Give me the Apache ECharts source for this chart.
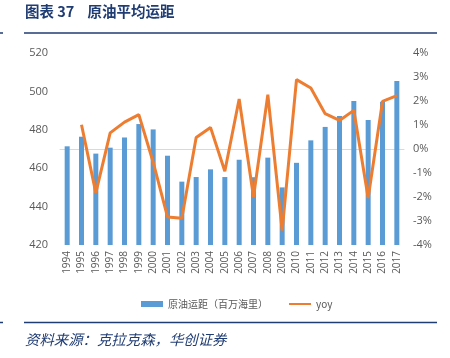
<!DOCTYPE html>
<html><head><meta charset="utf-8">
<script src="https://cdn.jsdelivr.net/npm/echarts@6/dist/echarts.min.js"></script>
<style>html,body{margin:0;padding:0;background:#fff}#c{width:450px;height:358px}</style>
</head><body><div id="c"></div>
<script>
const categories = ['1994','1995','1996','1997','1998','1999','2000','2001','2002','2003','2004','2005','2006','2007','2008','2009','2010','2011','2012','2013','2014','2015','2016','2017'];
const distance = [471.4,476.4,467.6,470.7,476.0,483.0,480.2,466.5,453.0,455.4,459.4,455.4,464.4,455.3,465.5,450.0,462.8,474.5,481.5,487.2,495.0,485.1,494.6,505.4];
const yoy = [null,1.01,-1.83,0.67,1.12,1.43,-0.55,-2.83,-2.89,0.48,0.90,-0.93,2.08,-2.00,2.26,-3.40,2.89,2.54,1.47,1.19,1.61,-2.04,1.98,2.22];
const leftTicks = [420,440,460,480,500,520];
const rightTicks = [-4,-3,-2,-1,0,1,2,3,4];

const chart = echarts.init(document.getElementById('c'));
const gray = '#595959';
chart.setOption({
  animation:false,
  graphic:[
    {type:'text',left:25,top:4,style:{text:'图表 37    原油平均运距',font:'bold 14.5px "Noto Sans CJK SC"',fill:'#1F3C73'}},
    {type:'line',shape:{x1:24,y1:33,x2:437,y2:33},style:{stroke:'#1F3C73',lineWidth:1.5}},
    {type:'line',shape:{x1:0,y1:33,x2:3,y2:33},style:{stroke:'#1F3C73',lineWidth:1.5}},
    {type:'line',shape:{x1:24,y1:322.5,x2:437,y2:322.5},style:{stroke:'#1F3C73',lineWidth:1.5}},
    {type:'line',shape:{x1:0,y1:322.5,x2:3,y2:322.5},style:{stroke:'#1F3C73',lineWidth:1.5}},
    {type:'text',left:25,top:332,style:{text:'资料来源：克拉克森，华创证券',font:'italic 14.4px "Noto Sans CJK SC"',fill:'#1F3C73'}}
  ],
  grid:{left:60,right:46,top:53,bottom:113},
  legend:{
    top:294,left:136,itemGap:20,
    textStyle:{color:gray,fontSize:10,fontFamily:'"Noto Sans CJK SC"'},
    data:[
      {name:'原油运距（百万海里）',icon:'rect',itemStyle:{color:'#5B9BD5'}},
      {name:'yoy',itemStyle:{opacity:0}}
    ],
    itemWidth:22,itemHeight:6
  },
  xAxis:{
    type:'category',data:categories,
    axisLine:{lineStyle:{color:'#D9D9D9'}},
    axisTick:{show:false},
    axisLabel:{rotate:90,color:gray,fontSize:10,interval:0,margin:6,fontFamily:'"Open Sans"'}
  },
  yAxis:[
    {type:'value',min:420,max:520,interval:20,
     axisLabel:{color:gray,fontSize:11,margin:12,fontFamily:'"Open Sans"'},
     splitLine:{show:false},axisLine:{show:false},axisTick:{show:false}},
    {type:'value',min:-4,max:4,interval:1,
     axisLabel:{color:gray,fontSize:11,margin:9,formatter:v=>v+'%',fontFamily:'"Open Sans"'},
     splitLine:{show:false},axisLine:{show:false},axisTick:{show:false}}
  ],
  series:[
    {name:'原油运距（百万海里）',type:'bar',data:distance,barWidth:5,itemStyle:{color:'#5B9BD5'}},
    {name:'yoy',type:'line',yAxisIndex:1,data:yoy,symbol:'none',
     lineStyle:{color:'#ED7D31',width:3},itemStyle:{color:'#ED7D31'}}
  ]
});
</script></body></html>
